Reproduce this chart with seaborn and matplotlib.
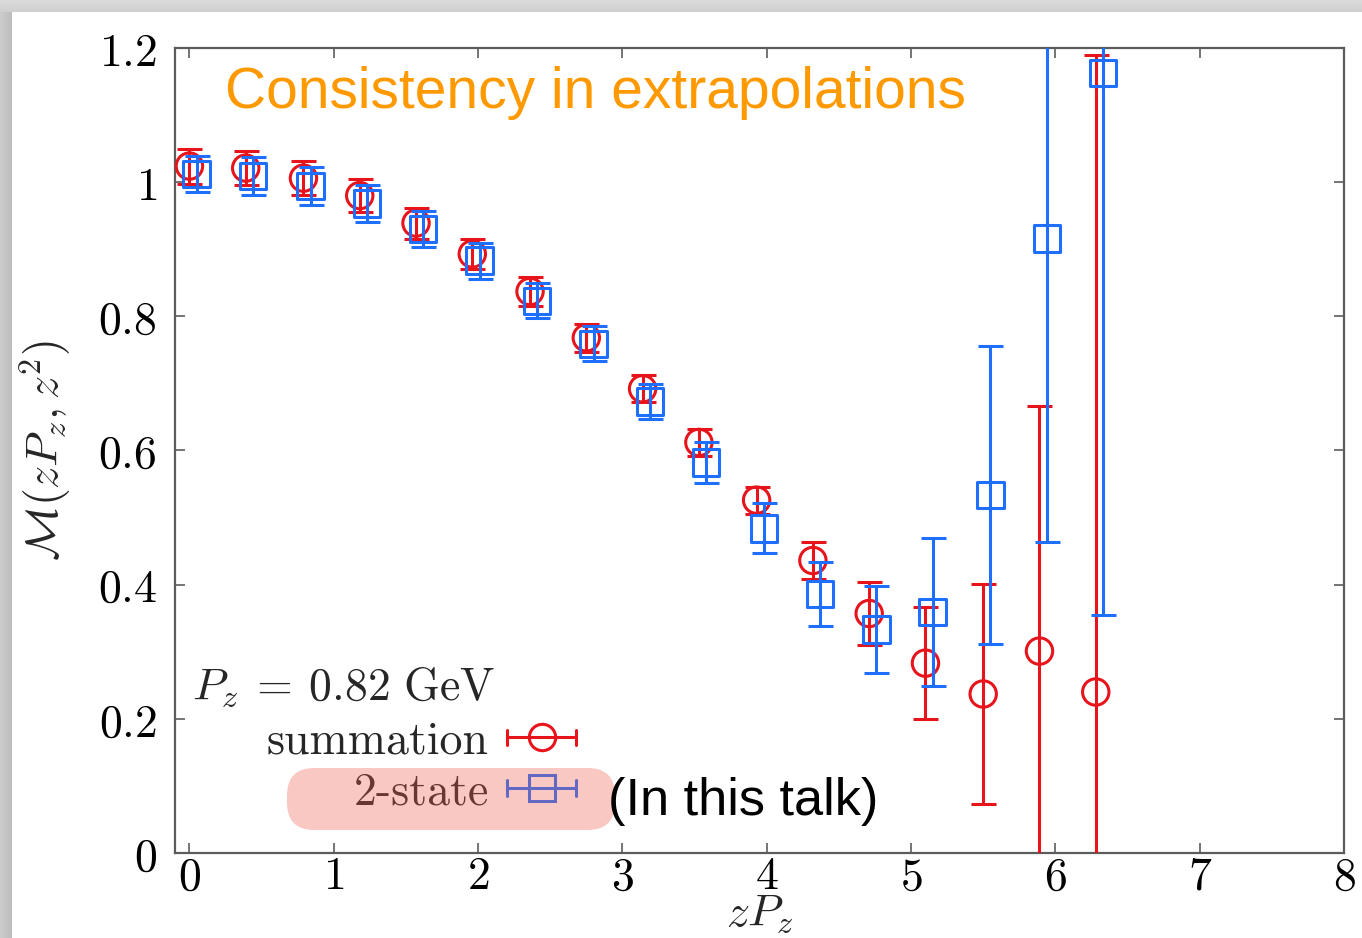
import numpy as np
import matplotlib
matplotlib.use("Agg")
import matplotlib.pyplot as plt
import seaborn as sns
from matplotlib.lines import Line2D
from matplotlib.patches import FancyBboxPatch, Rectangle
from matplotlib.legend_handler import HandlerBase
from matplotlib.ticker import FuncFormatter, FixedLocator
from matplotlib.font_manager import FontProperties

# ---------------- data ----------------
zpz_sum = [0.00, 0.39, 0.79, 1.18, 1.57, 1.96, 2.36, 2.75, 3.14, 3.53, 3.93,
           4.32, 4.71, 5.10, 5.50, 5.89, 6.28]
m_sum = [1.024, 1.021, 1.006, 0.980, 0.939, 0.893, 0.837, 0.768, 0.692, 0.612,
         0.526, 0.436, 0.357, 0.283, 0.237, 0.301, 0.240]
err_sum = [0.026, 0.025, 0.025, 0.025, 0.023, 0.022, 0.021, 0.021, 0.020, 0.020,
           0.020, 0.028, 0.047, 0.083, 0.164, 0.366, 0.950]

zpz_2st = [0.05, 0.44, 0.84, 1.23, 1.62, 2.01, 2.41, 2.80, 3.19, 3.58, 3.98,
           4.37, 4.76, 5.15, 5.55, 5.94, 6.33]
m_2st = [1.012, 1.009, 0.994, 0.968, 0.930, 0.883, 0.823, 0.759, 0.673, 0.582,
         0.484, 0.386, 0.333, 0.359, 0.534, 0.916, 1.163]
err_2st = [0.027, 0.028, 0.028, 0.028, 0.027, 0.027, 0.026, 0.026, 0.026, 0.030,
           0.037, 0.048, 0.065, 0.110, 0.222, 0.452, 0.808]

x_ticks = [0, 1, 2, 3, 4, 5, 6, 7, 8]
y_ticks = [0, 0.2, 0.4, 0.6, 0.8, 1.0, 1.2]
series_labels = ["summation", "2-state"]
title_text = "Consistency in extrapolations"
note_text = "(In this talk)"
key_title = r"$P_z\:=\:0.82\ \mathrm{GeV}$"
x_label = r"$zP_z$"
y_label = r"$\mathcal{M}(zP_z,z^2)$"

RED = "#e8141c"
BLUE = "#1f6fff"
ORANGE = "#ff9900"
SPINE = "#5c5c5c"

sns.set_theme(style="ticks")
plt.rcParams["mathtext.fontset"] = "cm"
plt.rcParams["font.family"] = ["DejaVu Sans"]

W, H = 1362, 938
fig = plt.figure(figsize=(W / 100, H / 100), dpi=100)
fig.patch.set_facecolor("white")

# slide shadow frame (left and top)
for i in range(12):
    g = 0.80 - 0.06 * i / 11
    fig.add_artist(Rectangle((i / W, 0), 1 / W, 1 - 12 / H, transform=fig.transFigure,
                             color=(g, g, g), lw=0, zorder=0))
for j in range(12):
    g = 0.86 - 0.05 * j / 11
    fig.add_artist(Rectangle((0, 1 - (j + 1) / H), 1, 1 / H, transform=fig.transFigure,
                             color=(g, g, g), lw=0, zorder=0))

ax = fig.add_axes([175 / W, 1 - 853 / H, (1344 - 175) / W, (853 - 48) / H])
ax.set_facecolor("white")

lw = 2.2
eb_sum = ax.errorbar(zpz_sum, m_sum, yerr=err_sum, fmt="none", ecolor=RED,
                     elinewidth=lw, capsize=9, capthick=lw, zorder=3)
sns.scatterplot(x=zpz_sum, y=m_sum, marker="o", s=19 ** 2, facecolor="none",
                edgecolor=RED, linewidth=lw, ax=ax, zorder=4, legend=False)
eb_2st = ax.errorbar(zpz_2st, m_2st, yerr=err_2st, fmt="none", ecolor=BLUE,
                     elinewidth=lw, capsize=9, capthick=lw, zorder=5)
sns.scatterplot(x=zpz_2st, y=m_2st, marker="s", s=19 ** 2, facecolor="none",
                edgecolor=BLUE, linewidth=lw, ax=ax, zorder=6, legend=False)

ax.set_xlim(-0.1, 8)
ax.set_ylim(0, 1.2)
ax.xaxis.set_major_locator(FixedLocator(x_ticks))
ax.yaxis.set_major_locator(FixedLocator(y_ticks))
ax.xaxis.set_major_formatter(FuncFormatter(lambda v, p: f"${v:g}$"))
ax.yaxis.set_major_formatter(FuncFormatter(lambda v, p: f"${v:g}$"))
ax.tick_params(axis="both", direction="in", length=7, width=1.2, color=SPINE,
               labelcolor="black", labelsize=33, top=True, right=True)
ax.tick_params(axis="x", pad=1)
ax.tick_params(axis="y", pad=13)
for s in ax.spines.values():
    s.set_color(SPINE)
    s.set_linewidth(1.6)
ax.set_xlabel(x_label, fontsize=33, labelpad=-6)
ax.set_ylabel(y_label, fontsize=33, labelpad=18)


class ErrKeyHandler(HandlerBase):
    def __init__(self, color, marker, ms):
        super().__init__()
        self.color = color
        self.marker = marker
        self.ms = ms

    def create_artists(self, legend, orig_handle, xdescent, ydescent, width,
                       height, fontsize, trans):
        y = height / 2 - ydescent
        x0 = -xdescent
        x1 = x0 + width
        cap = 5.5
        arts = [
            Line2D([x0, x1], [y, y], color=self.color, lw=lw),
            Line2D([x0, x0], [y - cap, y + cap], color=self.color, lw=lw),
            Line2D([x1, x1], [y - cap, y + cap], color=self.color, lw=lw),
            Line2D([(x0 + x1) / 2], [y], marker=self.marker, ms=self.ms,
                   mfc="none", mec=self.color, mew=lw, lw=0),
        ]
        for a in arts:
            a.set_transform(trans)
        return arts


h_sum = Line2D([], [], color=RED)
h_2st = Line2D([], [], color=BLUE)
fp = FontProperties(family="cmr10", size=33)
leg = ax.legend([h_sum, h_2st], series_labels,
                handler_map={h_sum: ErrKeyHandler(RED, "o", 19),
                             h_2st: ErrKeyHandler(BLUE, "s", 19)},
                loc="center right", bbox_to_anchor=(0.343, 0.107),
                frameon=False, markerfirst=False, prop=fp,
                handlelength=1.5, handletextpad=0.4, labelspacing=0.2,
                borderpad=0, borderaxespad=0)
leg.set_zorder(8)

ax.text(17 / 1169, (853 - 700) / 805, key_title, transform=ax.transAxes,
        fontsize=33, ha="left", va="baseline", zorder=8)

# highlight box over the 2-state entry
box = FancyBboxPatch((287 / W, 1 - 830 / H), (615 - 287) / W, (830 - 768) / H,
                     boxstyle="round,pad=0,rounding_size=0.02",
                     mutation_aspect=W / H, transform=fig.transFigure,
                     facecolor="#f05a4b", edgecolor="none", alpha=0.33,
                     zorder=20)
fig.add_artist(box)

fig.text(608 / W, 1 - 801 / H, note_text, fontsize=37.7, family="Liberation Sans",
         color="black", ha="left", va="center", zorder=30)

ax.text(50 / 1169, (853 - 108) / 805, title_text, transform=ax.transAxes,
        fontsize=41, family="Liberation Sans", color=ORANGE, ha="left",
        va="baseline", zorder=9)

fig.savefig("out.png", dpi=100, facecolor="white")
